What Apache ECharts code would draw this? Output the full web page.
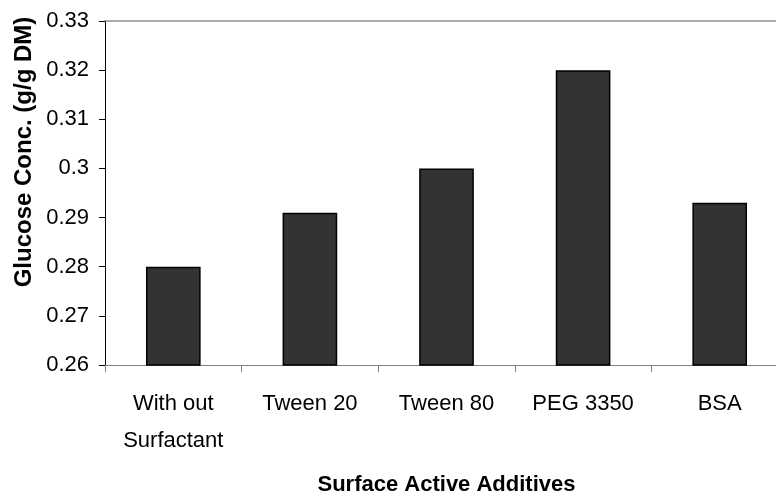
<!DOCTYPE html>
<html>
<head>
<meta charset="utf-8">
<script src="https://cdn.jsdelivr.net/npm/echarts@6/dist/echarts.min.js"></script>
<style>html,body{margin:0;padding:0;background:#fff}#c{width:776px;height:495px}</style>
</head>
<body>
<div id="c"></div>
<script>
const categories = ['With out\nSurfactant', 'Tween 20', 'Tween 80', 'PEG 3350', 'BSA'];
const glucose = [0.28, 0.291, 0.300, 0.320, 0.293];
const yTitle = 'Glucose Conc. (g/g DM)';
const xTitle = 'Surface Active Additives';

const chart = echarts.init(document.getElementById('c'), null, {renderer: 'canvas'});
const font = 'Liberation Sans, Arial, sans-serif';
chart.setOption({
  animation: false,
  backgroundColor: '#fff',
  grid: {left: 105, top: 21, right: -12, bottom: 130, containLabel: false, outerBoundsMode: 'none'},
  xAxis: [{
    type: 'category',
    data: categories,
    position: 'bottom',
    axisLine: {lineStyle: {color: '#808080', width: 1}},
    axisTick: {show: true, length: 7, lineStyle: {color: '#808080'}},
    axisLabel: {color: '#000', fontFamily: font, fontSize: 22, lineHeight: 37, margin: 20, interval: 0},
    name: xTitle,
    nameLocation: 'middle',
    nameGap: 109,
    nameTextStyle: {color: '#000', fontFamily: font, fontSize: 22, fontWeight: 'bold'}
  }, {
    type: 'category',
    data: categories,
    position: 'top',
    axisLine: {show: true, lineStyle: {color: '#909090', width: 1.5}},
    axisTick: {show: false},
    axisLabel: {show: false}
  }],
  yAxis: {
    type: 'value',
    min: 0.26, max: 0.33, interval: 0.01,
    axisLine: {show: true, lineStyle: {color: '#000', width: 1}},
    axisTick: {show: true, length: 6, lineStyle: {color: '#000'}},
    splitLine: {show: false},
    axisLabel: {color: '#000', fontFamily: font, fontSize: 22, margin: 16}
  },
  graphic: [{
    type: 'text',
    x: 24, y: 152,
    rotation: Math.PI / 2,
    style: {text: yTitle, fill: '#000', font: 'bold 24px ' + font, textAlign: 'center', textVerticalAlign: 'middle'}
  }],
  series: [{
    type: 'bar',
    data: glucose,
    barWidth: '40%',
    itemStyle: {color: '#333333', borderColor: '#000', borderWidth: 1.5}
  }]
});
</script>
</body>
</html>
